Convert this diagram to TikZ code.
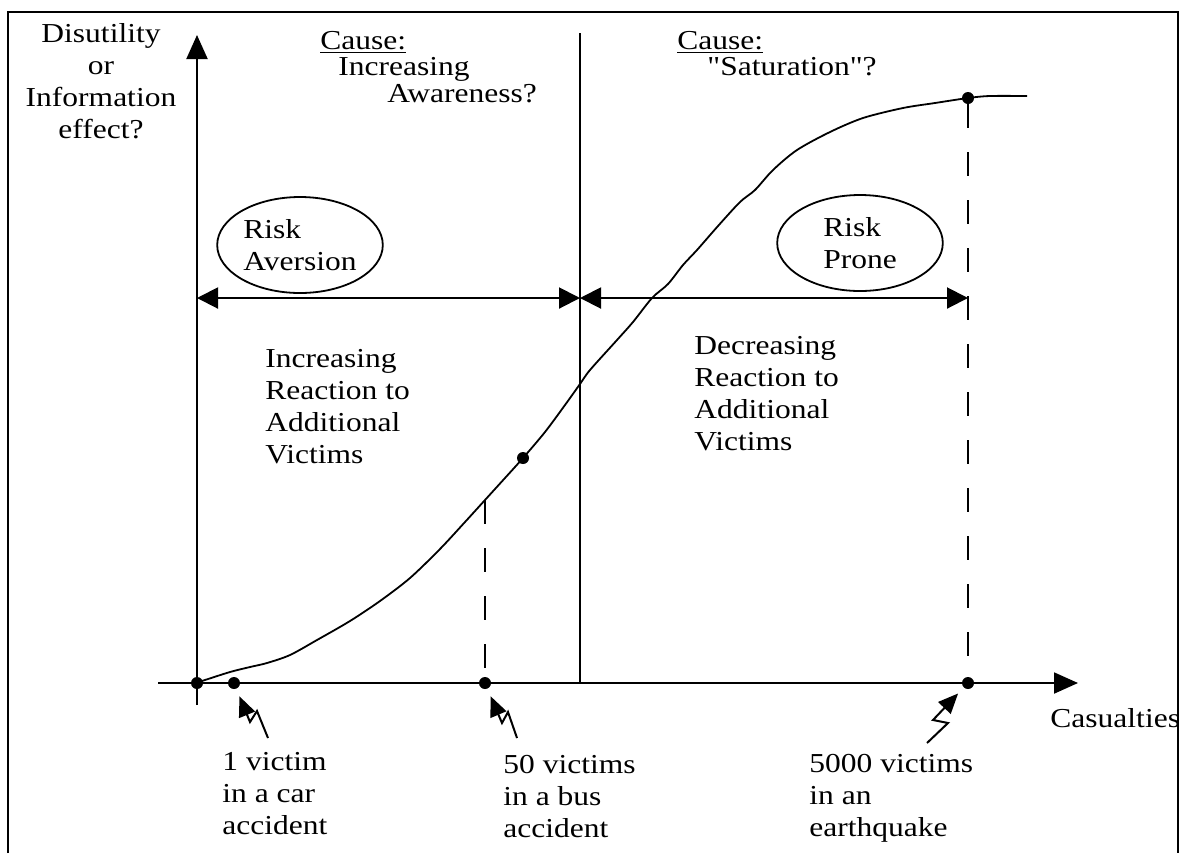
\documentclass[tikz,border=0pt]{standalone}
\usepackage{fontspec}
\setmainfont{Liberation Serif}[Ligatures=TeXOff]
\usepackage{tikz}
\usetikzlibrary{shapes,arrows.meta,positioning,calc}
\tikzstyle{txt} = [inner sep=0pt, align=left, xscale=1.15, font=\fontsize{13.7}{15.9}\selectfont]
\tikzstyle{zone} = [txt, ellipse, draw=black, line width=0.9pt, minimum width=72pt, minimum height=48pt]
\tikzstyle{dot} = [circle, fill=black, inner sep=0pt, minimum size=6pt]
\tikzstyle{axisline} = [line width=1pt, -{Triangle[length=12pt,width=10.5pt]}]
\tikzstyle{spanarrow} = [line width=1pt, {Triangle[length=10.5pt,width=10.5pt]}-{Triangle[length=10.5pt,width=10.5pt]}]
\tikzstyle{bolt} = [line width=1pt, -{Triangle[length=10pt,width=8.5pt]}, shorten >=4pt]
\tikzstyle{guide} = [line width=1pt, dash pattern=on 12pt off 12pt]

\begin{document}
\begin{tikzpicture}[x=0.5pt, y=-0.5pt]
\useasboundingbox (0,0) rectangle (1187,853);

% Cadre
\draw[line width=1pt] (8,853) -- (8,12) -- (1178,12) -- (1178,853);

% Axes et separation
\coordinate (xstart) at (158,683);
\coordinate (xend) at (1078,683);
\coordinate (ystart) at (197,705);
\coordinate (yend) at (197,35);
\coordinate (divtop) at (580,33);
\coordinate (divbot) at (580,683);
\draw[axisline] (xstart) -- (xend);
\draw[axisline] (ystart) -- (yend);
\draw[line width=1pt] (divtop) -- (divbot);

% Zones de risque
\coordinate (spanl) at (197,298);
\coordinate (spanm) at (580,298);
\coordinate (spanr) at (968,298);
\draw[spanarrow] (spanl) -- (spanm);
\draw[spanarrow] (spanm) -- (spanr);

% Courbe
\draw[line width=0.9pt] plot[smooth, tension=0.5] coordinates {
    (196,683) (205,680) (230,672) (250,667) (267,663) (290,655) (317,640)
    (350,621) (380,601) (410,578) (440,549) (465,522) (485,500) (505,478)
    (523,458) (545,432) (565,405) (580,384) (590,370) (617,340) (633,322)
    (652,298) (668,284) (683,265) (697,250) (718,226) (740,202) (755,190)
    (773,170) (797,150) (830,132) (863,118) (903,108) (935,103) (968,98)
    (990,96) (1027,96)};

% Points
\node[dot] (origin) at (197,683) {};
\node[dot] (d1) at (234,683) {};
\node[dot] (d50) at (485,683) {};
\node[dot] (d5000) at (968,683) {};
\node[dot] (dmid) at (523,458) {};
\node[dot] (dsat) at (968,98) {};

% Lignes de rappel
\coordinate (c50) at (485,500);
\draw[guide] (c50) -- (d50);
\draw[guide] (dsat) -- (d5000);

% Eclairs
\coordinate (b1) at (268,738);
\coordinate (b50) at (517,738);
\coordinate (b5000) at (927,743);
\draw[bolt] (b1) -- ++(-11,-27) -- ++(-7,11) -- (d1);
\draw[bolt] (b50) -- ++(-9,-26) -- ++(-6,11) -- (d50);
\draw[bolt] (b5000) -- ++(21,-20) -- ++(-15,-3) -- (d5000);

% Textes (base = ligne du bas)
\node[txt, align=center, anchor=base] (ylab) at (101,138) {Disutility\\or\\Information\\effect?};
\node[txt, anchor=base west] (cause1) at (320,49) {\underline{Cause:}};
\node[txt, anchor=base west] (incr1) at (338,75) {Increasing};
\node[txt, anchor=base west] (aware) at (387,102) {Awareness?};
\node[txt, anchor=base west] (cause2) at (677,49) {\underline{Cause:}};
\node[txt, anchor=base west] (satur) at (707,75) {"Saturation"?};

\node[zone] (aversion) at (300,245) {Risk\\Aversion};
\node[zone] (prone) at (860,243) {Risk\\Prone};

\node[txt, anchor=base west] (incr) at (265,463) {Increasing\\Reaction to\\Additional\\Victims};
\node[txt, anchor=base west] (decr) at (694,450) {Decreasing\\Reaction to\\Additional\\Victims};

\node[txt, anchor=base west] (lbl1) at (222,834) {1 victim\\in a car\\accident};
\node[txt, anchor=base west] (lbl50) at (503,837) {50 victims\\in a bus\\accident};
\node[txt, anchor=base west] (lbl5000) at (809,836) {5000 victims\\in an\\earthquake};
\node[txt, anchor=base west] (casual) at (1050,727) {Casualties};

\end{tikzpicture}
\end{document}
